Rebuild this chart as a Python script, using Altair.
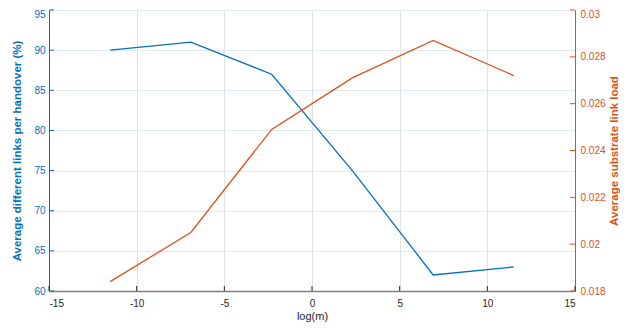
import altair as alt
import pandas as pd

# ---- data ----
log_m = [-11.51, -6.91, -2.30, 2.30, 6.91, 11.51]
links_pct = [90.0, 91.0, 87.0, 75.0, 62.0, 63.0]
link_load = [0.0184, 0.0205, 0.0249, 0.0271, 0.0287, 0.0272]

x_ticks = [-15, -10, -5, 0, 5, 10, 15]
left_ticks = [60, 65, 70, 75, 80, 85, 90, 95]
right_ticks = [0.018, 0.020, 0.022, 0.024, 0.026, 0.028, 0.030]

BLUE = "#0072BD"
ORANGE = "#D95319"
FONT = "Liberation Sans"
W, H = 526, 281

df = pd.DataFrame({"x": log_m, "links": links_pct, "load": link_load})
xt = pd.DataFrame({"t": x_ticks})
lt = pd.DataFrame({"t": left_ticks})
rt = pd.DataFrame({"t": right_ticks})

xscale = alt.Scale(domain=[-15, 15], nice=False, zero=False)
lscale = alt.Scale(domain=[60, 95], nice=False, zero=False)
rscale = alt.Scale(domain=[0.018, 0.03], nice=False, zero=False)

xaxis = alt.Axis(
    values=x_ticks, title="log(m)", grid=True, gridColor="#e2e2e2", gridWidth=1,
    domainColor="#808080", domainWidth=1.6, ticks=False,
    labelExpr="'' + datum.value",
    labelColor="#262626", labelFontSize=10, labelPadding=7, labelFont=FONT,
    titleColor="#262626", titleFontSize=11, titleFontWeight="normal", titleFont=FONT,
    titlePadding=2,
)
laxis = alt.Axis(
    values=left_ticks, title="Average different links per handover (%)",
    grid=True, gridColor="#dfeaf4", gridWidth=1,
    domainColor=BLUE, domainWidth=1, ticks=False,
    labelColor=BLUE, labelFontSize=10, labelPadding=4, labelFont=FONT,
    labelOffset={"condition": {"test": "datum.value >= 95", "value": 4}, "value": 0},
    titleColor=BLUE, titleFontSize=11.5, titleFontWeight="bold", titleFont=FONT,
    titlePadding=11,
)
raxis = alt.Axis(
    values=right_ticks, orient="right", format=".3~f",
    title="Average substrate link load", grid=False,
    domainColor=ORANGE, domainWidth=1, ticks=False,
    labelColor=ORANGE, labelFontSize=10, labelPadding=5, labelFont=FONT,
    labelOffset={"condition": {"test": "datum.value >= 0.0299", "value": 4}, "value": 0},
    titleColor=ORANGE, titleFontSize=11.5, titleFontWeight="bold", titleFont=FONT,
    titleAngle=270, titleBaseline="top", titlePadding=3,
)

blue_line = alt.Chart(df).mark_line(color=BLUE, strokeWidth=1.3).encode(
    x=alt.X("x:Q", scale=xscale, axis=xaxis),
    y=alt.Y("links:Q", scale=lscale, axis=laxis),
)
blue_ticks = alt.Chart(lt).mark_rule(color=BLUE, strokeWidth=1).encode(
    y=alt.Y("t:Q", scale=lscale, axis=laxis),
    x=alt.value(0), x2=alt.value(5),
)
x_tick_rules = alt.Chart(xt).mark_rule(color="#262626", strokeWidth=1).encode(
    x=alt.X("t:Q", scale=xscale, axis=xaxis),
    y=alt.value(H), y2=alt.value(H - 5),
)
left = alt.layer(blue_line, blue_ticks, x_tick_rules)

orange_line = alt.Chart(df).mark_line(color=ORANGE, strokeWidth=1.3).encode(
    x=alt.X("x:Q", scale=xscale, axis=xaxis),
    y=alt.Y("load:Q", scale=rscale, axis=raxis),
)
orange_ticks = alt.Chart(rt).mark_rule(color=ORANGE, strokeWidth=1).encode(
    y=alt.Y("t:Q", scale=rscale, axis=raxis),
    x=alt.value(W - 5), x2=alt.value(W),
)
right = alt.layer(orange_line, orange_ticks)

chart = (
    alt.layer(left, right)
    .resolve_scale(y="independent")
    .properties(
        width=W, height=H,
        padding={"left": 41, "top": 2, "right": 45, "bottom": 31},
        autosize=alt.AutoSizeParams(type="none"),
        background="white",
    )
    .configure_view(stroke=None)
)

chart.save("out.html", embed_options={"renderer": "svg", "actions": False})
